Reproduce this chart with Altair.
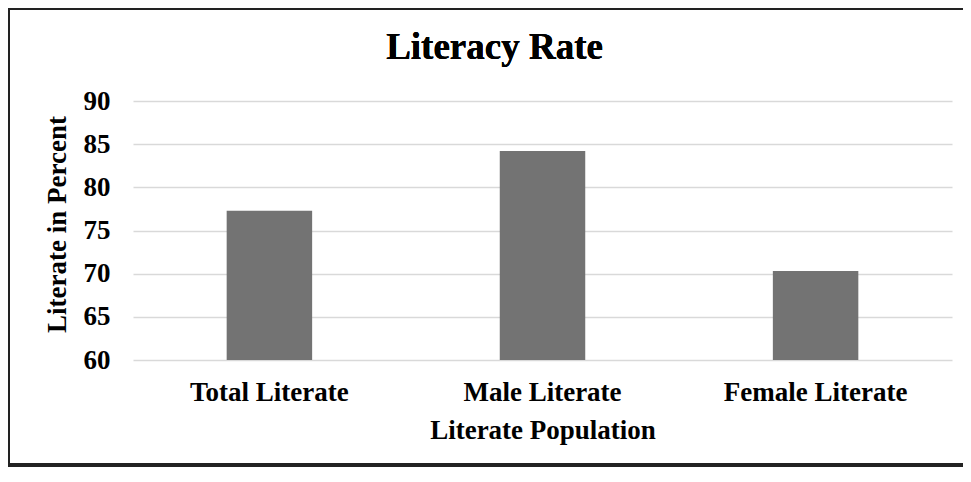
import altair as alt
import pandas as pd

categories = ["Total Literate", "Male Literate", "Female Literate"]
values = [77.3, 84.2, 70.3]
y_ticks = [60, 65, 70, 75, 80, 85, 90]
chart_title = "Literacy Rate"

df = pd.DataFrame({"category": categories, "value": values})

FONT = "Liberation Serif"

bars = alt.Chart(df).mark_bar(color="#737373").encode(
    x=alt.X(
        "category:N",
        sort=categories,
        scale=alt.Scale(paddingInner=0.687, paddingOuter=0.343),
        axis=alt.Axis(
            title="Literate Population",
            labelAngle=0,
            ticks=False,
            domain=False,
            labelPadding=19,
            titlePadding=12,
            labelFontSize=27,
            titleFontSize=27,
            labelLimit=400,
        ),
    ),
    y=alt.Y(
        "value:Q",
        scale=alt.Scale(domain=[60, 90], zero=False, nice=False),
        axis=alt.Axis(
            title="Literate in Percent",
            values=y_ticks,
            ticks=False,
            domain=False,
            labelPadding=23,
            titlePadding=12,
            titleY=123,
            labelFontSize=27,
            titleFontSize=27,
            grid=True,
            gridColor="#d9d9d9",
            gridWidth=1.6,
        ),
    ),
    y2=alt.Y2Datum(60),
)

title_text = alt.Chart(df).mark_text(
    text=chart_title,
    font=FONT,
    fontSize=37,
    fontWeight="bold",
    color="black",
    align="center",
    baseline="alphabetic",
).encode(x=alt.value(361.5), y=alt.value(-41.7))

frame_left = alt.Chart(df).mark_rule(color="#222222", strokeWidth=4).encode(
    x=alt.value(-125), y=alt.value(-93), y2=alt.value(366)
)
frame_top = alt.Chart(df).mark_rule(color="#222222", strokeWidth=4).encode(
    x=alt.value(-125), x2=alt.value(830), y=alt.value(-93)
)
frame_bottom = alt.Chart(df).mark_rule(color="#222222", strokeWidth=4).encode(
    x=alt.value(-125), x2=alt.value(830), y=alt.value(364)
)

chart = (
    alt.layer(bars, title_text, frame_left, frame_top, frame_bottom)
    .properties(
        width=819,
        height=259,
        background="white",
        autosize=alt.AutoSizeParams(type="none"),
        padding={"left": 125, "top": 93, "right": 11, "bottom": 114},
    )
    .configure_view(stroke=None)
    .configure_axis(
        labelFont=FONT,
        titleFont=FONT,
        labelFontWeight="bold",
        titleFontWeight="bold",
        labelColor="black",
        titleColor="black",
    )
)

chart.save("out.html", embed_options={"renderer": "svg", "actions": False})
